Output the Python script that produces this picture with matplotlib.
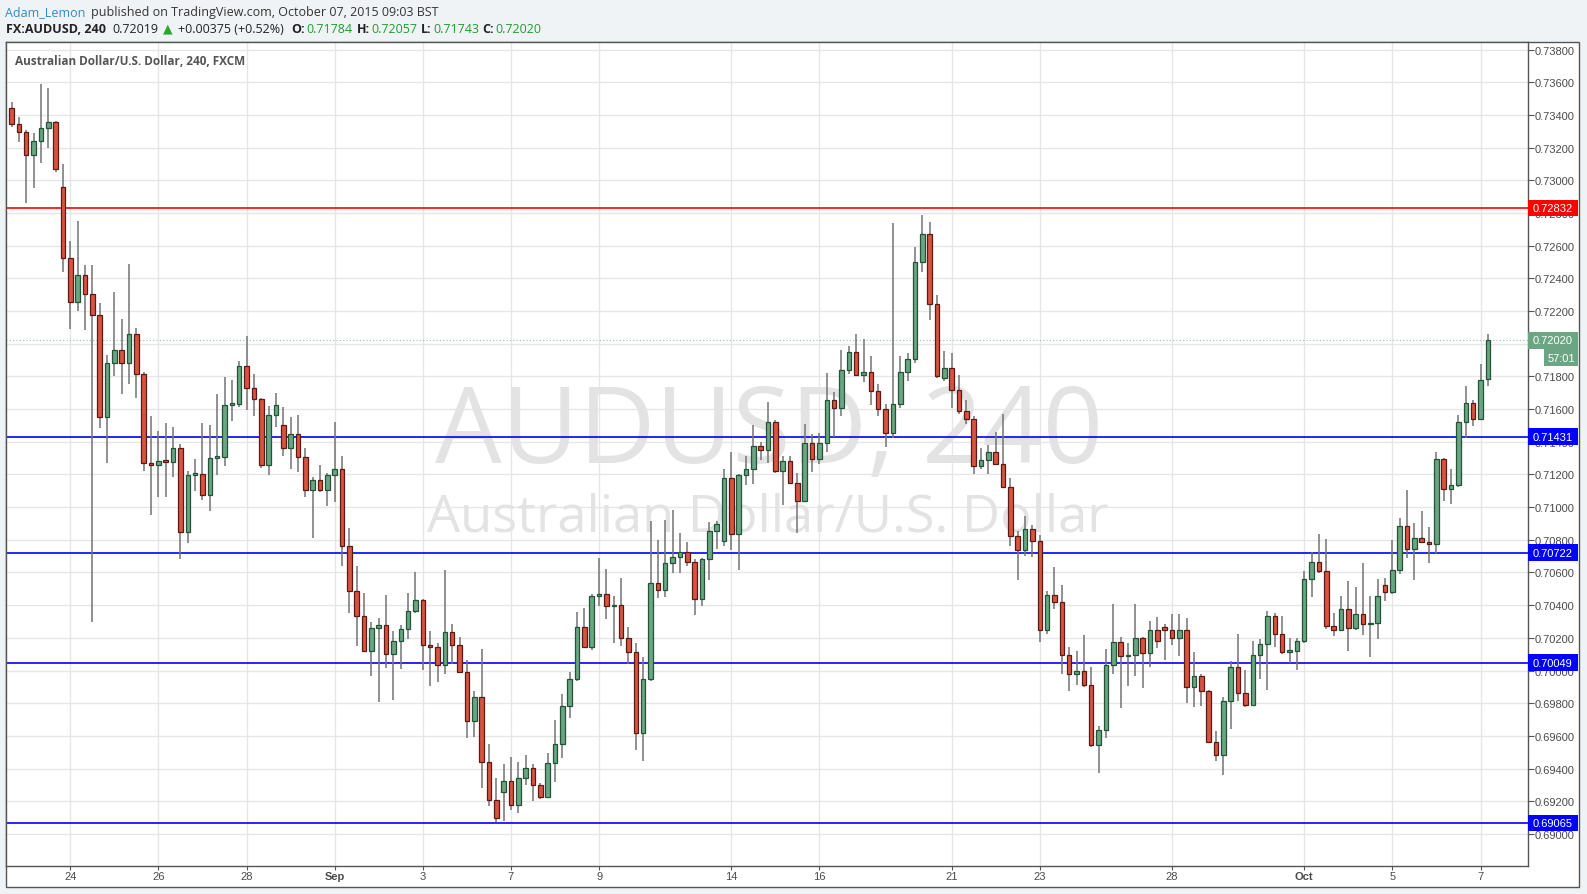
import matplotlib
matplotlib.use("Agg")
import matplotlib.pyplot as plt
from matplotlib.patches import Rectangle
from matplotlib.collections import LineCollection
from matplotlib.transforms import blended_transform_factory

W, H = 1587, 895

# FX:AUDUSD 240 (FXCM) candles
opens = [
    0.73444, 0.73347, 0.73298, 0.73156, 0.73242, 0.73321, 0.73354, 0.72961, 0.72527, 0.72253,
    0.72422, 0.72306, 0.72178, 0.71549, 0.71884, 0.71963, 0.71884, 0.72062, 0.71817, 0.71268,
    0.71255, 0.71285, 0.71277, 0.71364, 0.70845, 0.71199, 0.71205, 0.71075, 0.71303, 0.71309,
    0.71627, 0.71633, 0.71866, 0.71731, 0.71664, 0.71260, 0.71566, 0.71505, 0.71364, 0.71450,
    0.71309, 0.71107, 0.71168, 0.71107, 0.71199, 0.71236, 0.70765, 0.70489, 0.70336, 0.70122,
    0.70263, 0.70281, 0.70104, 0.70178, 0.70257, 0.70367, 0.70429, 0.70159, 0.70147, 0.70031,
    0.70233, 0.70159, 0.69988, 0.69694, 0.69835, 0.69443, 0.69205, 0.69254, 0.69321, 0.69174,
    0.69345, 0.69406, 0.69302, 0.69223, 0.69437, 0.69553, 0.69780, 0.69951, 0.70269, 0.70147,
    0.70453, 0.70471, 0.70392, 0.70404, 0.70202, 0.70111, 0.69616, 0.69946, 0.70534, 0.70494,
    0.70661, 0.70693, 0.70728, 0.70665, 0.70435, 0.70685, 0.70856, 0.70793, 0.71180, 0.70838,
    0.71199, 0.71235, 0.71376, 0.71351, 0.71519, 0.71220, 0.71284, 0.71148, 0.71040, 0.71394,
    0.71297, 0.71394, 0.71653, 0.71606, 0.71841, 0.71947, 0.71810, 0.71825, 0.71712, 0.71600,
    0.71455, 0.71633, 0.71829, 0.71908, 0.72502, 0.72669, 0.72245, 0.71790, 0.71853, 0.71719,
    0.71590, 0.71541, 0.71253, 0.71291, 0.71340, 0.71266, 0.71123, 0.70826, 0.70740, 0.70869,
    0.70791, 0.70251, 0.70465, 0.70420, 0.70096, 0.69976, 0.70000, 0.69914, 0.69547, 0.69639,
    0.70031, 0.70177, 0.70086, 0.70098, 0.70196, 0.70110, 0.70250, 0.70268, 0.70250, 0.70201,
    0.70250, 0.69902, 0.69969, 0.69872, 0.69561, 0.69482, 0.69811, 0.70024, 0.69860, 0.69786,
    0.70098, 0.70165, 0.70335, 0.70226, 0.70116, 0.70122, 0.70183, 0.70561, 0.70665, 0.70610,
    0.70275, 0.70250, 0.70374, 0.70258, 0.70343, 0.70282, 0.70290, 0.70526, 0.70478, 0.70618,
    0.70887, 0.70746, 0.70814, 0.70789, 0.70775, 0.71296, 0.71113, 0.71138, 0.71523, 0.71639,
    0.71541, 0.71784,
]
highs = [
    0.73478, 0.73386, 0.73311, 0.73287, 0.73588, 0.73562, 0.73360, 0.73098, 0.72626, 0.72748,
    0.72484, 0.72484, 0.72251, 0.71929, 0.72315, 0.72150, 0.72487, 0.72098, 0.71826, 0.71555,
    0.71465, 0.71512, 0.71489, 0.71386, 0.71221, 0.71293, 0.71513, 0.71501, 0.71690, 0.71794,
    0.71776, 0.71892, 0.72045, 0.71813, 0.71670, 0.71621, 0.71696, 0.71615, 0.71554, 0.71566,
    0.71364, 0.71187, 0.71256, 0.71211, 0.71519, 0.71311, 0.70871, 0.70638, 0.70473, 0.70294,
    0.70324, 0.70461, 0.70241, 0.70276, 0.70473, 0.70602, 0.70437, 0.70241, 0.70171, 0.70614,
    0.70282, 0.70208, 0.70067, 0.69872, 0.70131, 0.69553, 0.69341, 0.69430, 0.69468, 0.69439,
    0.69480, 0.69427, 0.69311, 0.69494, 0.69696, 0.69855, 0.69994, 0.70357, 0.70382, 0.70467,
    0.70687, 0.70620, 0.70455, 0.70565, 0.70266, 0.70168, 0.70084, 0.70913, 0.70797, 0.70919,
    0.70981, 0.70840, 0.70785, 0.70685, 0.70690, 0.70907, 0.70915, 0.71231, 0.71335, 0.71205,
    0.71315, 0.71500, 0.71396, 0.71641, 0.71535, 0.71313, 0.71313, 0.71206, 0.71507, 0.71445,
    0.71455, 0.71818, 0.71702, 0.71959, 0.71984, 0.72057, 0.72026, 0.71924, 0.71751, 0.71631,
    0.72736, 0.71927, 0.71945, 0.72593, 0.72785, 0.72742, 0.72300, 0.71953, 0.71945, 0.71807,
    0.71658, 0.71560, 0.71360, 0.71378, 0.71462, 0.71572, 0.71181, 0.70852, 0.70944, 0.70891,
    0.70828, 0.70485, 0.70632, 0.70522, 0.70141, 0.70118, 0.70216, 0.70020, 0.69659, 0.70130,
    0.70410, 0.70208, 0.70167, 0.70406, 0.70208, 0.70301, 0.70325, 0.70283, 0.70344, 0.70344,
    0.70319, 0.70112, 0.69977, 0.69878, 0.69628, 0.69837, 0.70061, 0.70222, 0.70006, 0.70183,
    0.70193, 0.70366, 0.70354, 0.70331, 0.70197, 0.70197, 0.70606, 0.70728, 0.70838, 0.70805,
    0.70354, 0.70455, 0.70547, 0.70510, 0.70657, 0.70455, 0.70559, 0.70565, 0.70799, 0.70936,
    0.71103, 0.70901, 0.70979, 0.70881, 0.71335, 0.71300, 0.71231, 0.71561, 0.71743, 0.71653,
    0.71873, 0.72057,
]
lows = [
    0.73326, 0.73236, 0.72862, 0.72952, 0.73107, 0.73197, 0.73051, 0.72439, 0.72093, 0.72201,
    0.72085, 0.70298, 0.71484, 0.71270, 0.71800, 0.71693, 0.71755, 0.71669, 0.71223, 0.70952,
    0.71062, 0.71062, 0.71184, 0.70684, 0.70778, 0.71100, 0.71044, 0.70977, 0.71197, 0.71252,
    0.71527, 0.71613, 0.71594, 0.71558, 0.71240, 0.71197, 0.71490, 0.71313, 0.71234, 0.71215,
    0.71062, 0.70811, 0.71093, 0.71007, 0.71032, 0.70640, 0.70355, 0.70151, 0.70115, 0.69967,
    0.69808, 0.70016, 0.69821, 0.70010, 0.70194, 0.70355, 0.70004, 0.69906, 0.69931, 0.69980,
    0.70041, 0.69985, 0.69588, 0.69596, 0.69278, 0.69170, 0.69070, 0.69080, 0.69147, 0.69131,
    0.69300, 0.69204, 0.69211, 0.69217, 0.69319, 0.69466, 0.69710, 0.69937, 0.70140, 0.70127,
    0.70394, 0.70317, 0.70170, 0.70149, 0.70041, 0.69516, 0.69449, 0.69934, 0.70443, 0.70449,
    0.70598, 0.70598, 0.70640, 0.70341, 0.70394, 0.70555, 0.70746, 0.70759, 0.70738, 0.70616,
    0.71133, 0.71142, 0.71288, 0.71268, 0.71207, 0.71013, 0.71142, 0.70842, 0.71030, 0.71217,
    0.71264, 0.71337, 0.71429, 0.71558, 0.71814, 0.71802, 0.71768, 0.71625, 0.71558, 0.71370,
    0.71425, 0.71606, 0.71772, 0.71884, 0.72440, 0.72145, 0.71790, 0.71772, 0.71606, 0.71570,
    0.71509, 0.71203, 0.71234, 0.71203, 0.71258, 0.71117, 0.70763, 0.70555, 0.70701, 0.70695,
    0.70175, 0.70224, 0.70375, 0.69980, 0.69876, 0.69912, 0.69900, 0.69533, 0.69374, 0.69590,
    0.69980, 0.69772, 0.69906, 0.69967, 0.69894, 0.70022, 0.70138, 0.70065, 0.70156, 0.70089,
    0.69803, 0.69778, 0.69784, 0.69555, 0.69445, 0.69360, 0.69640, 0.69811, 0.69774, 0.69780,
    0.69949, 0.69882, 0.70144, 0.70102, 0.70049, 0.70005, 0.70171, 0.70449, 0.70596, 0.70254,
    0.70211, 0.70240, 0.70117, 0.70250, 0.70219, 0.70080, 0.70194, 0.70427, 0.70470, 0.70592,
    0.70691, 0.70557, 0.70780, 0.70661, 0.70716, 0.71038, 0.71019, 0.71123, 0.71425, 0.71496,
    0.71535, 0.71743,
]
closes = [
    0.73347, 0.73298, 0.73156, 0.73242, 0.73321, 0.73354, 0.73072, 0.72527, 0.72253, 0.72422,
    0.72306, 0.72178, 0.71549, 0.71884, 0.71963, 0.71884, 0.72062, 0.71817, 0.71268, 0.71255,
    0.71285, 0.71277, 0.71364, 0.70845, 0.71199, 0.71205, 0.71075, 0.71303, 0.71311, 0.71627,
    0.71633, 0.71866, 0.71731, 0.71664, 0.71260, 0.71566, 0.71627, 0.71364, 0.71450, 0.71309,
    0.71107, 0.71168, 0.71107, 0.71199, 0.71236, 0.70765, 0.70489, 0.70336, 0.70122, 0.70263,
    0.70281, 0.70104, 0.70178, 0.70257, 0.70367, 0.70429, 0.70159, 0.70147, 0.70031, 0.70233,
    0.70159, 0.69988, 0.69694, 0.69835, 0.69443, 0.69205, 0.69100, 0.69321, 0.69174, 0.69345,
    0.69406, 0.69302, 0.69223, 0.69437, 0.69553, 0.69780, 0.69951, 0.70269, 0.70147, 0.70453,
    0.70471, 0.70392, 0.70404, 0.70202, 0.70111, 0.69616, 0.69946, 0.70534, 0.70494, 0.70661,
    0.70693, 0.70728, 0.70665, 0.70435, 0.70685, 0.70856, 0.70899, 0.71180, 0.70838, 0.71199,
    0.71235, 0.71376, 0.71351, 0.71519, 0.71220, 0.71284, 0.71148, 0.71040, 0.71394, 0.71297,
    0.71394, 0.71653, 0.71606, 0.71841, 0.71947, 0.71810, 0.71825, 0.71712, 0.71600, 0.71455,
    0.71633, 0.71829, 0.71908, 0.72502, 0.72669, 0.72245, 0.71804, 0.71853, 0.71719, 0.71590,
    0.71541, 0.71253, 0.71291, 0.71340, 0.71266, 0.71123, 0.70826, 0.70740, 0.70869, 0.70791,
    0.70251, 0.70465, 0.70420, 0.70096, 0.69976, 0.70000, 0.69914, 0.69547, 0.69639, 0.70031,
    0.70177, 0.70086, 0.70098, 0.70196, 0.70110, 0.70250, 0.70183, 0.70250, 0.70201, 0.70250,
    0.69902, 0.69969, 0.69872, 0.69561, 0.69482, 0.69811, 0.70024, 0.69860, 0.69786, 0.70098,
    0.70165, 0.70335, 0.70226, 0.70116, 0.70122, 0.70183, 0.70561, 0.70665, 0.70610, 0.70275,
    0.70250, 0.70374, 0.70258, 0.70343, 0.70282, 0.70290, 0.70459, 0.70478, 0.70618, 0.70887,
    0.70746, 0.70814, 0.70789, 0.70775, 0.71296, 0.71113, 0.71138, 0.71523, 0.71639, 0.71541,
    0.71779, 0.72020,
]

# bar index where each date label sits
tick_idx = [8, 20, 32, 44, 56, 68, 80, 98, 110, 128, 140, 158, 176, 188, 200]
tick_labels = ["24", "26", "28", "Sep", "3", "7", "9", "14", "16", "21", "23", "28", "Oct", "5", "7"]
price_ticks = [0.690 + 0.002 * k for k in range(25)]

levels = [0.72832, 0.71431, 0.70722, 0.70049, 0.69065]
level_colors = ["#ff0000", "#0000ff", "#0000ff", "#0000ff", "#0000ff"]
last_price = 0.72020
countdown = "57:01"

UP, UP_EDGE = "#6ba583", "#225437"
DOWN, DOWN_EDGE = "#d75442", "#5b1a13"
WICK = "#737375"
GRID = "#e6e6e6"
FRAME = "#555555"
TXT = "#4a4a4a"

# pane geometry in pixels
PANE_L, PANE_R, PANE_T, PANE_B = 6, 1528, 42.7, 867
OUT_R, OUT_B = 1579, 888
PX_PER_UNIT = 16340.0          # pixels per 1.0 of price
Y_TOP = 0.738 + (50.6 - PANE_T) / PX_PER_UNIT
Y_BOT = 0.738 - (PANE_B - 50.6) / PX_PER_UNIT
BAR0_X, BAR_DX = 11.5, 7.345


def fx(px):
    return px / W


def fy(py):
    return 1 - py / H


plt.rcParams['font.family'] = ['Open Sans', 'DejaVu Sans']

fig = plt.figure(figsize=(W / 100, H / 100), dpi=100)
fig.patch.set_facecolor("#eff3f6")

# white chart frame (pane + price axis + date axis), behind the axes
frame = Rectangle((fx(PANE_L), fy(OUT_B)), fx(OUT_R) - fx(PANE_L), fy(PANE_T) - fy(OUT_B),
                  transform=fig.transFigure, facecolor="white", edgecolor=FRAME, lw=1, zorder=-5)
fig.add_artist(frame)

ax = fig.add_axes([fx(PANE_L), fy(PANE_B), fx(PANE_R) - fx(PANE_L), fy(PANE_T) - fy(PANE_B)])
ax.set_zorder(2)
ax.set_facecolor("white")
ax.set_xlim((PANE_L - BAR0_X) / BAR_DX, (PANE_R - BAR0_X) / BAR_DX)
ax.set_ylim(Y_BOT, Y_TOP)
for s in ax.spines.values():
    s.set_color(FRAME)
    s.set_linewidth(1)

# grid and axes
ax.set_yticks(price_ticks)
ax.set_yticklabels([f"{v:.5f}" for v in price_ticks])
ax.set_xticks(tick_idx)
ax.set_xticklabels(tick_labels)
ax.grid(True, color=GRID, lw=1)
ax.set_axisbelow(True)
ax.yaxis.tick_right()
ax.tick_params(axis="y", length=4, width=0.8, color=FRAME, pad=1, labelsize=8,
               labelcolor=TXT, labelfontfamily="Liberation Sans")
ax.tick_params(axis="x", length=3, width=0.8, color=FRAME, pad=0.5, labelsize=8,
               labelcolor=TXT, labelfontfamily="Liberation Sans")
for lab in ax.get_xticklabels():
    if lab.get_text() in ("Sep", "Oct"):
        lab.set_fontweight("bold")

# watermark
fig.canvas.draw()
renderer = fig.canvas.get_renderer()
fig_tr = blended_transform_factory(fig.transFigure, fig.transFigure)


def fitted(x, y, s, width_px, **kw):
    t = ax.text(x, y, s, transform=fig_tr, ha="center", va="baseline", fontsize=60, **kw)
    bb = t.get_window_extent(renderer)
    t.set_fontsize(60 * width_px / bb.width)
    return t


fitted(fx(769), fy(463.5), "AUDUSD, 240", 668, color="#e3e3e3", zorder=1)
fitted(fx(768), fy(531), "Australian Dollar/U.S. Dollar", 681, color="#e3e3e3", zorder=1)

# horizontal levels and last price
for lv, col in zip(levels, level_colors):
    ax.axhline(lv, color=col, lw=1.2, zorder=2)
ax.axhline(last_price, color=UP, lw=0.8, ls=(0, (1, 2)), alpha=0.7, zorder=2)

# candles
xs = list(range(len(opens)))
wicks = [[(i, l), (i, h)] for i, l, h in zip(xs, lows, highs)]
ax.add_collection(LineCollection(wicks, colors=WICK, linewidths=1.1, zorder=3))
min_h = 1.5 / PX_PER_UNIT
for i, o, c in zip(xs, opens, closes):
    up = c >= o
    ax.add_patch(Rectangle((i - 0.31, min(o, c)), 0.62, max(abs(c - o), min_h),
                           facecolor=UP if up else DOWN, edgecolor=UP_EDGE if up else DOWN_EDGE,
                           lw=0.9, zorder=4))

# price tags on the axis (they sit over the regular price labels, as in TradingView)
tr = blended_transform_factory(fig.transFigure, ax.transData)
tag_h = 16.4 / PX_PER_UNIT


def tag(y, text, color, x0=PANE_R, x1=OUT_R - 1):
    ax.add_patch(Rectangle((fx(x0), y - tag_h / 2), fx(x1) - fx(x0), tag_h, transform=tr,
                           facecolor=color, edgecolor="none", clip_on=False, zorder=10))
    ax.text(fx(1533), y, text, transform=tr, color="white", fontsize=8, va="center", ha="left",
            family="Liberation Sans", clip_on=False, zorder=11)


for lv, col in zip(levels, level_colors):
    tag(lv, f"{lv:.5f}", col)
tag(last_price, f"{last_price:.5f}", UP)
cd_y = last_price - (tag_h + 0.8 / PX_PER_UNIT)
ax.add_patch(Rectangle((fx(1544), cd_y - tag_h / 2), fx(OUT_R - 1) - fx(1544), tag_h, transform=tr,
                       facecolor=UP, edgecolor="none", clip_on=False, zorder=10))
ax.text(fx(1561), cd_y, countdown, transform=tr, color="white", fontsize=8, va="center", ha="center",
        family="Liberation Sans", clip_on=False, zorder=11)

# pane title
ax.text(fx(15), fy(61.7), "Australian Dollar/U.S. Dollar, 240, FXCM", transform=fig_tr,
        color="#555555", fontsize=8.5, fontweight="bold", va="center", ha="left", zorder=12)

# header
GREEN = "#1e9e2a"
fig.text(fx(5), fy(12.3), "Adam_Lemon", color="#2b8ccd", fontsize=9, va="center")
fig.text(fx(91), fy(12.3), "published on TradingView.com, October 07, 2015 09:03 BST",
         color="#333333", fontsize=9, va="center")
y2 = fy(29.3)
fig.text(fx(6.4), y2, "FX:AUDUSD, 240", color="#222222", fontsize=9, fontweight="bold", va="center")
fig.text(fx(112), y2, "0.72019", color="#222222", fontsize=9, va="center")
fig.text(fx(163), y2, "\u25b2", color="#2fa52f", fontsize=9, va="center", family="DejaVu Sans")
fig.text(fx(177.5), y2, "+0.00375 (+0.52%)", color="#222222", fontsize=9, va="center")
for lab_x, lab, val_x, val in [(291, "O:", 306, "0.71784"), (357, "H:", 371, "0.72057"),
                               (421, "L:", 433, "0.71743"), (482.5, "C:", 495, "0.72020")]:
    fig.text(fx(lab_x), y2, lab, color="#222222", fontsize=9, fontweight="bold", va="center")
    fig.text(fx(val_x), y2, val, color=GREEN, fontsize=9, va="center")

fig.savefig("out.png", dpi=100, facecolor=fig.get_facecolor())
